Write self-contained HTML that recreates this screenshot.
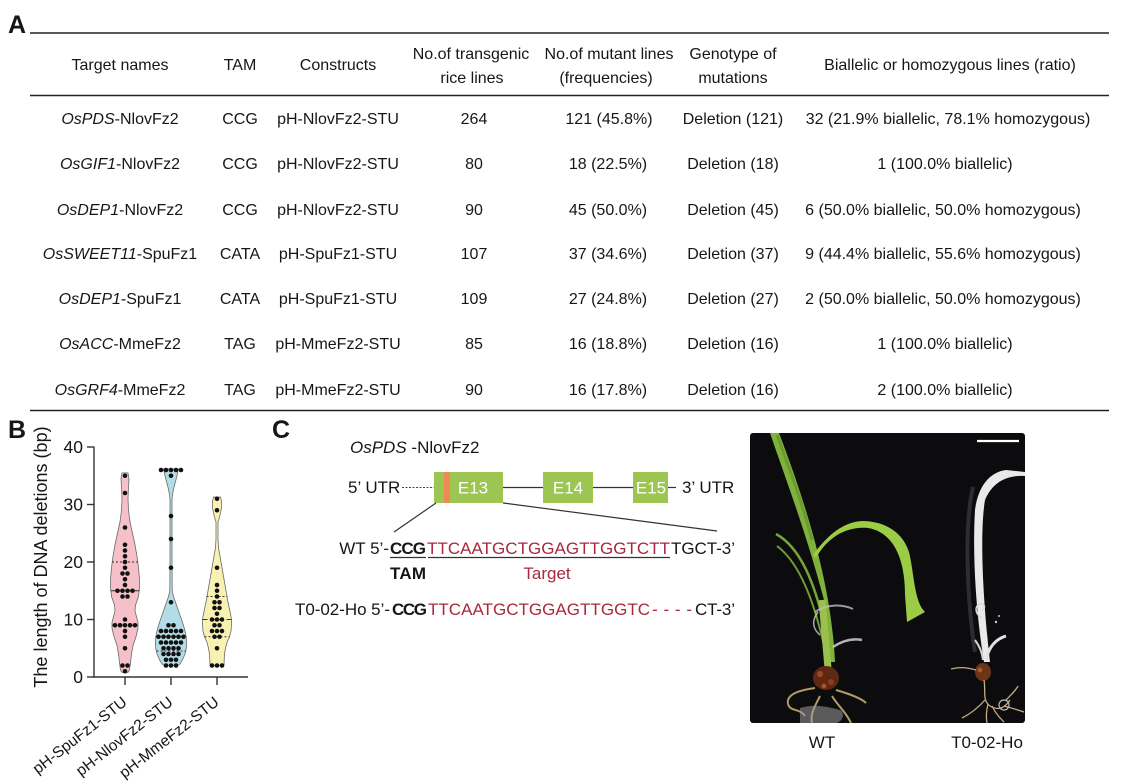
<!DOCTYPE html>
<html>
<head>
<meta charset="utf-8">
<style>
  html,body{margin:0;padding:0;background:#fff;}
  svg{display:block;}
  text{font-family:"Liberation Sans",Arial,sans-serif;fill:#161616;}
</style>
</head>
<body>
<svg width="1139" height="783" viewBox="0 0 1139 783" xmlns="http://www.w3.org/2000/svg">
  <rect width="1139" height="783" fill="#fff"/>

  <!-- ============ Panel A: table ============ -->
  <text x="8" y="33" font-size="25" font-weight="bold">A</text>
  <line x1="30" y1="33" x2="1109" y2="33" stroke="#222" stroke-width="1.6"/>
  <line x1="30" y1="95.5" x2="1109" y2="95.5" stroke="#222" stroke-width="1.6"/>
  <line x1="30" y1="410.5" x2="1109" y2="410.5" stroke="#222" stroke-width="1.6"/>

  <g font-size="16" text-anchor="middle">
    <text x="120" y="70">Target names</text>
    <text x="240" y="70">TAM</text>
    <text x="338" y="70">Constructs</text>
    <text x="471" y="59">No.of transgenic</text>
    <text x="472" y="83">rice lines</text>
    <text x="609" y="59">No.of mutant lines</text>
    <text x="606" y="83">(frequencies)</text>
    <text x="733" y="59">Genotype of</text>
    <text x="733" y="83">mutations</text>
    <text x="950" y="70">Biallelic or homozygous lines (ratio)</text>

    <!-- row 1 -->
    <text x="120" y="124"><tspan font-style="italic">OsPDS</tspan>-NlovFz2</text>
    <text x="240" y="124">CCG</text>
    <text x="338" y="124">pH-NlovFz2-STU</text>
    <text x="474" y="124">264</text>
    <text x="609" y="124">121 (45.8%)</text>
    <text x="733" y="124">Deletion (121)</text>
    <text x="948" y="124">32 (21.9% biallelic, 78.1% homozygous)</text>
    <!-- row 2 -->
    <text x="120" y="169"><tspan font-style="italic">OsGIF1</tspan>-NlovFz2</text>
    <text x="240" y="169">CCG</text>
    <text x="338" y="169">pH-NlovFz2-STU</text>
    <text x="474" y="169">80</text>
    <text x="608" y="169">18 (22.5%)</text>
    <text x="733" y="169">Deletion (18)</text>
    <text x="945" y="169">1 (100.0% biallelic)</text>
    <!-- row 3 -->
    <text x="120" y="215"><tspan font-style="italic">OsDEP1</tspan>-NlovFz2</text>
    <text x="240" y="215">CCG</text>
    <text x="338" y="215">pH-NlovFz2-STU</text>
    <text x="474" y="215">90</text>
    <text x="608" y="215">45 (50.0%)</text>
    <text x="733" y="215">Deletion (45)</text>
    <text x="943" y="215">6 (50.0% biallelic, 50.0% homozygous)</text>
    <!-- row 4 -->
    <text x="120" y="259"><tspan font-style="italic">OsSWEET11</tspan>-SpuFz1</text>
    <text x="240" y="259">CATA</text>
    <text x="338" y="259">pH-SpuFz1-STU</text>
    <text x="474" y="259">107</text>
    <text x="608" y="259">37 (34.6%)</text>
    <text x="733" y="259">Deletion (37)</text>
    <text x="943" y="259">9 (44.4% biallelic, 55.6% homozygous)</text>
    <!-- row 5 -->
    <text x="120" y="304"><tspan font-style="italic">OsDEP1</tspan>-SpuFz1</text>
    <text x="240" y="304">CATA</text>
    <text x="338" y="304">pH-SpuFz1-STU</text>
    <text x="474" y="304">109</text>
    <text x="608" y="304">27 (24.8%)</text>
    <text x="733" y="304">Deletion (27)</text>
    <text x="943" y="304">2 (50.0% biallelic, 50.0% homozygous)</text>
    <!-- row 6 -->
    <text x="120" y="349"><tspan font-style="italic">OsACC</tspan>-MmeFz2</text>
    <text x="240" y="349">TAG</text>
    <text x="338" y="349">pH-MmeFz2-STU</text>
    <text x="474" y="349">85</text>
    <text x="608" y="349">16 (18.8%)</text>
    <text x="733" y="349">Deletion (16)</text>
    <text x="945" y="349">1 (100.0% biallelic)</text>
    <!-- row 7 -->
    <text x="120" y="395"><tspan font-style="italic">OsGRF4</tspan>-MmeFz2</text>
    <text x="240" y="395">TAG</text>
    <text x="338" y="395">pH-MmeFz2-STU</text>
    <text x="474" y="395">90</text>
    <text x="608" y="395">16 (17.8%)</text>
    <text x="733" y="395">Deletion (16)</text>
    <text x="945" y="395">2 (100.0% biallelic)</text>
  </g>

  <!-- ============ Panel B: violin plot ============ -->
  <text x="8" y="438" font-size="25" font-weight="bold">B</text>
  <text transform="translate(47,557) rotate(-90)" font-size="18" text-anchor="middle">The length of DNA deletions (bp)</text>

  <!-- violins -->
  <polygon fill="#f5c0c7" stroke="#6a6a6a" stroke-width="0.8" points="128,472.9 129,478.6 128.5,487.25 128,498.75 128.5,510.25 130,521.75 132.5,533.25 135,544.75 137,556.25 138.5,567.75 139.5,579.25 139.5,587.9 138.5,596.5 135.5,605.1 135,610.9 136.5,616.6 138,622.4 138,628.1 136,636.75 133,645.4 131.5,654 130.5,662.6 129.5,670.1 128,672.4 122,672.4 120.5,670.1 119.5,662.6 118.5,654 117,645.4 114,636.75 112,628.1 112,622.4 113.5,616.6 115,610.9 114.5,605.1 111.5,596.5 110.5,587.9 110.5,579.25 111.5,567.75 113,556.25 115,544.75 117.5,533.25 120,521.75 121.5,510.25 122,498.75 121.5,487.25 121,478.6 122,472.9"/>
  <polygon fill="#b2dce6" stroke="#6a6a6a" stroke-width="0.8" points="178.5,468.85 177,475.75 175.5,481.5 174,487.25 172.8,493 172,498.75 172,516 172,562 172.2,590.75 173.5,596.5 175.5,602.25 177.5,608 179.5,613.75 181.5,619.5 183.5,625.25 185,631 186.2,636.75 186.6,642.5 186.3,648.25 185,654 182.5,659.75 180,663.8 178,665.5 164,665.5 162,663.8 159.5,659.75 157,654 155.7,648.25 155.4,642.5 155.8,636.75 157,631 158.5,625.25 160.5,619.5 162.5,613.75 164.5,608 166.5,602.25 168.5,596.5 169.8,590.75 170,562 170,516 170,498.75 169.2,493 168,487.25 166.5,481.5 165,475.75 163.5,468.85"/>
  <polygon fill="#f9f1b2" stroke="#6a6a6a" stroke-width="0.8" points="220.5,497 221.5,501.6 221.5,507.4 220.5,513.1 219,518.9 218,521.75 218,539 218.5,547.6 220,556.25 222,567.75 224,579.25 226,590.75 228,602.25 230.5,613.75 231.5,619.5 231.5,625.25 231,631 229.5,636.75 227,642.5 225.5,648.25 224.5,654 224.2,659.75 224,665.5 210,665.5 209.8,659.75 209.5,654 208.5,648.25 207,642.5 204.5,636.75 203,631 202.5,625.25 202.5,619.5 203.5,613.75 206,602.25 208,590.75 210,579.25 212,567.75 214,556.25 215.5,547.6 216,539 216,521.75 215,518.9 213.5,513.1 212.5,507.4 212.5,501.6 213.5,497"/>

  <!-- median / quartile lines -->
  <g stroke="#333" stroke-width="1">
    <line x1="112" y1="562" x2="138" y2="562" stroke-dasharray="2,2"/>
    <line x1="110.5" y1="590.75" x2="139.5" y2="590.75" stroke-dasharray="5,3"/>
    <line x1="112" y1="625.25" x2="138" y2="625.25" stroke-dasharray="5,3"/>
    <line x1="155.8" y1="636.75" x2="186.2" y2="636.75" stroke-dasharray="5,3"/>
    <line x1="156.5" y1="651" x2="185.5" y2="651" stroke-dasharray="2,2"/>
    <line x1="206.5" y1="596.5" x2="227.5" y2="596.5" stroke-dasharray="2,2"/>
    <line x1="202.5" y1="619.5" x2="231.5" y2="619.5" stroke-dasharray="5,3"/>
    <line x1="204.5" y1="636.75" x2="229.5" y2="636.75" stroke-dasharray="2,2"/>
  </g>

  <!-- dots -->
  <g fill="#111">
    <!-- pink -->
    <circle cx="125" cy="475.75" r="2.3"/>
    <circle cx="125" cy="493" r="2.3"/>
    <circle cx="125" cy="527.5" r="2.3"/>
    <circle cx="125" cy="544.75" r="2.3"/>
    <circle cx="125" cy="550.5" r="2.3"/>
    <circle cx="125" cy="556.25" r="2.3"/>
    <circle cx="125" cy="562" r="2.3"/>
    <circle cx="125" cy="567.75" r="2.3"/>
    <circle cx="122.5" cy="573.5" r="2.3"/><circle cx="127.5" cy="573.5" r="2.3"/>
    <circle cx="125" cy="579.25" r="2.3"/>
    <circle cx="125" cy="585" r="2.3"/>
    <circle cx="117.5" cy="590.75" r="2.3"/><circle cx="122.5" cy="590.75" r="2.3"/><circle cx="127.5" cy="590.75" r="2.3"/><circle cx="132.5" cy="590.75" r="2.3"/>
    <circle cx="122.5" cy="596.5" r="2.3"/><circle cx="127.5" cy="596.5" r="2.3"/>
    <circle cx="125" cy="619.5" r="2.3"/>
    <circle cx="115" cy="625.25" r="2.3"/><circle cx="120" cy="625.25" r="2.3"/><circle cx="125" cy="625.25" r="2.3"/><circle cx="130" cy="625.25" r="2.3"/><circle cx="135" cy="625.25" r="2.3"/>
    <circle cx="125" cy="631" r="2.3"/>
    <circle cx="125" cy="636.75" r="2.3"/>
    <circle cx="125" cy="648.25" r="2.3"/>
    <circle cx="122.5" cy="665.5" r="2.3"/><circle cx="127.5" cy="665.5" r="2.3"/>
    <circle cx="125" cy="671.25" r="2.3"/>
    <!-- blue -->
    <circle cx="161" cy="470" r="2.3"/><circle cx="166" cy="470" r="2.3"/><circle cx="171" cy="470" r="2.3"/><circle cx="176" cy="470" r="2.3"/><circle cx="181" cy="470" r="2.3"/>
    <circle cx="171" cy="475.75" r="2.3"/>
    <circle cx="171" cy="516" r="2.3"/>
    <circle cx="171" cy="539" r="2.3"/>
    <circle cx="171" cy="567.75" r="2.3"/>
    <circle cx="171" cy="602.25" r="2.3"/>
    <circle cx="168.5" cy="625.25" r="2.3"/><circle cx="173.5" cy="625.25" r="2.3"/>
    <circle cx="161" cy="631" r="2.3"/><circle cx="166" cy="631" r="2.3"/><circle cx="171" cy="631" r="2.3"/><circle cx="176" cy="631" r="2.3"/><circle cx="181" cy="631" r="2.3"/>
    <circle cx="158.5" cy="636.75" r="2.3"/><circle cx="163.5" cy="636.75" r="2.3"/><circle cx="168.5" cy="636.75" r="2.3"/><circle cx="173.5" cy="636.75" r="2.3"/><circle cx="178.5" cy="636.75" r="2.3"/><circle cx="183.5" cy="636.75" r="2.3"/>
    <circle cx="161" cy="642.5" r="2.3"/><circle cx="166" cy="642.5" r="2.3"/><circle cx="171" cy="642.5" r="2.3"/><circle cx="176" cy="642.5" r="2.3"/><circle cx="181" cy="642.5" r="2.3"/>
    <circle cx="163.5" cy="648.25" r="2.3"/><circle cx="168.5" cy="648.25" r="2.3"/><circle cx="173.5" cy="648.25" r="2.3"/><circle cx="178.5" cy="648.25" r="2.3"/>
    <circle cx="163.5" cy="654" r="2.3"/><circle cx="168.5" cy="654" r="2.3"/><circle cx="173.5" cy="654" r="2.3"/><circle cx="178.5" cy="654" r="2.3"/>
    <circle cx="166" cy="659.75" r="2.3"/><circle cx="171" cy="659.75" r="2.3"/><circle cx="176" cy="659.75" r="2.3"/>
    <circle cx="166" cy="665.5" r="2.3"/><circle cx="171" cy="665.5" r="2.3"/><circle cx="176" cy="665.5" r="2.3"/>
    <!-- yellow -->
    <circle cx="217" cy="498.75" r="2.3"/>
    <circle cx="217" cy="510.25" r="2.3"/>
    <circle cx="217" cy="567.75" r="2.3"/>
    <circle cx="217" cy="585" r="2.3"/>
    <circle cx="217" cy="590.75" r="2.3"/>
    <circle cx="217" cy="596.5" r="2.3"/>
    <circle cx="214.5" cy="602.25" r="2.3"/><circle cx="219.5" cy="602.25" r="2.3"/>
    <circle cx="214.5" cy="608" r="2.3"/><circle cx="219.5" cy="608" r="2.3"/>
    <circle cx="217" cy="613.75" r="2.3"/>
    <circle cx="212" cy="619.5" r="2.3"/><circle cx="217" cy="619.5" r="2.3"/><circle cx="222" cy="619.5" r="2.3"/>
    <circle cx="214.5" cy="625.25" r="2.3"/><circle cx="219.5" cy="625.25" r="2.3"/>
    <circle cx="212" cy="631" r="2.3"/><circle cx="217" cy="631" r="2.3"/><circle cx="222" cy="631" r="2.3"/>
    <circle cx="214.5" cy="636.75" r="2.3"/><circle cx="219.5" cy="636.75" r="2.3"/>
    <circle cx="217" cy="648.25" r="2.3"/>
    <circle cx="212" cy="665.5" r="2.3"/><circle cx="217" cy="665.5" r="2.3"/><circle cx="222" cy="665.5" r="2.3"/>
  </g>

  <!-- axes -->
  <g stroke="#333" stroke-width="1.4" fill="none">
    <line x1="94" y1="446.5" x2="94" y2="677.5"/>
    <line x1="93.3" y1="677" x2="248" y2="677"/>
    <line x1="87" y1="447" x2="94" y2="447"/>
    <line x1="87" y1="504.5" x2="94" y2="504.5"/>
    <line x1="87" y1="562" x2="94" y2="562"/>
    <line x1="87" y1="619.5" x2="94" y2="619.5"/>
    <line x1="87" y1="677" x2="94" y2="677"/>
    <line x1="125" y1="677" x2="125" y2="685"/>
    <line x1="171" y1="677" x2="171" y2="685"/>
    <line x1="217" y1="677" x2="217" y2="685"/>
  </g>
  <g font-size="17.5" text-anchor="end">
    <text x="83" y="453">40</text>
    <text x="83" y="510.5">30</text>
    <text x="83" y="568">20</text>
    <text x="83" y="625.5">10</text>
    <text x="83" y="683">0</text>
  </g>
  <g font-size="15.5" text-anchor="end">
    <text transform="translate(128,704) rotate(-38)">pH-SpuFz1-STU</text>
    <text transform="translate(174,704) rotate(-38)">pH-NlovFz2-STU</text>
    <text transform="translate(220,704) rotate(-38)">pH-MmeFz2-STU</text>
  </g>

  <!-- ============ Panel C ============ -->
  <text x="272" y="438" font-size="25" font-weight="bold">C</text>
  <text x="350" y="453" font-size="17"><tspan font-style="italic">OsPDS</tspan> -NlovFz2</text>

  <!-- gene diagram -->
  <text x="348" y="493" font-size="17">5’ UTR</text>
  <line x1="402" y1="487.5" x2="434" y2="487.5" stroke="#444" stroke-width="1" stroke-dasharray="2,1.5"/>
  <line x1="503" y1="487.5" x2="543" y2="487.5" stroke="#333" stroke-width="1.2"/>
  <line x1="593" y1="487.5" x2="633" y2="487.5" stroke="#333" stroke-width="1.2"/>
  <line x1="668" y1="487.5" x2="676" y2="487.5" stroke="#333" stroke-width="1.2"/>
  <rect x="434" y="472" width="69" height="31" fill="#9cc651"/>
  <rect x="444" y="472" width="6" height="31" fill="#f08a55"/>
  <rect x="543" y="472" width="50" height="31" fill="#9cc651"/>
  <rect x="633" y="472" width="35" height="31" fill="#9cc651"/>
  <g font-size="17" text-anchor="middle">
    <text x="473" y="493.5" style="fill:#fff">E13</text>
    <text x="568" y="493.5" style="fill:#fff">E14</text>
    <text x="651" y="493.5" style="fill:#fff">E15</text>
  </g>
  <text x="682" y="493" font-size="17">3’ UTR</text>
  <line x1="436" y1="503" x2="394" y2="532" stroke="#333" stroke-width="1.2"/>
  <line x1="503" y1="503" x2="717" y2="531" stroke="#333" stroke-width="1.2"/>

  <!-- sequences -->
  <g font-size="17">
    <text x="389" y="554" text-anchor="end">WT 5’-</text>
    <text x="390" y="554" font-weight="bold" textLength="36">CCG</text>
    <text x="427" y="554" style="fill:#a8283e" textLength="243">TTCAATGCTGGAGTTGGTCTT</text>
    <text x="671" y="554" textLength="64">TGCT-3’</text>
    <line x1="390" y1="557.5" x2="426" y2="557.5" stroke="#333" stroke-width="1.2"/>
    <line x1="428" y1="557.5" x2="670" y2="557.5" stroke="#333" stroke-width="1.2"/>
    <text x="390" y="579" font-weight="bold" textLength="36">TAM</text>
    <text x="547" y="579" text-anchor="middle" style="fill:#a8283e">Target</text>

    <text x="295" y="615" textLength="95">T0-02-Ho 5’-</text>
    <text x="392" y="615" font-weight="bold" textLength="35">CCG</text>
    <text x="428" y="615" style="fill:#a8283e" textLength="222">TTCAATGCTGGAGTTGGTC</text>
    <text x="652" y="615" style="fill:#a8283e" textLength="40">- - - -</text>
    <text x="695" y="615" textLength="40">CT-3’</text>
  </g>

  <!-- photo -->
  <rect x="750" y="433" width="275" height="290" rx="3" fill="#0c0c0f"/>
  <!-- WT plant -->
  <g>
    <path d="M770,433 C786,480 806,532 824,600 L828,662 L835,662 C832,600 816,530 779,433 Z" fill="#7fb23b"/>
    <path d="M777,435 C790,470 803,505 812,540" stroke="#6a9a30" stroke-width="3" fill="none"/>
    <path d="M776,534 C798,546 816,578 829,648" stroke="#76a636" stroke-width="2.5" fill="none"/>
    <path d="M777,546 C796,560 813,592 826,655" stroke="#6f9e33" stroke-width="2" fill="none"/>
    <path d="M816,558 C828,536 848,526 868,528 C892,532 905,556 905,595 L907,622 L925,612 C914,602 914,572 909,552 C902,530 882,521 862,521 C842,522 826,537 813,555 Z" fill="#9ccc45"/>
    <path d="M822,600 L828,668" stroke="#9cc050" stroke-width="7" fill="none"/>
    <path d="M815,612 C826,604 842,604 853,609" stroke="#bdbdbd" stroke-width="2" fill="none" opacity="0.8"/>
    <path d="M818,612 C812,620 812,628 820,635" stroke="#cfcfcf" stroke-width="1.5" fill="none" opacity="0.8"/>
    <path d="M833,647 C842,641 852,638 862,640" stroke="#d0d0d0" stroke-width="2.5" fill="none" opacity="0.85"/>
    <ellipse cx="826" cy="678" rx="13" ry="12" fill="#5e2812"/>
    <circle cx="820" cy="674" r="3" fill="#9a4a22"/>
    <circle cx="831" cy="682" r="3" fill="#8a3e1a"/>
    <circle cx="824" cy="686" r="2.5" fill="#a35428"/>
    <g stroke="#b49a66" stroke-width="2" fill="none">
      <path d="M815,688 C800,690 786,694 788,704 C790,712 800,708 805,716"/>
      <path d="M836,690 C850,694 862,699 866,703"/>
      <path d="M820,696 C815,706 810,714 812,723"/>
      <path d="M832,696 C838,706 846,712 851,723"/>
    </g>
    <path d="M800,708 C812,704 826,706 840,710 C846,714 842,722 836,723 L800,723 Z" fill="#9a9a9a" opacity="0.55"/>
  </g>
  <!-- mutant plant -->
  <g>
    <path d="M973,487 C964,525 967,600 975,652" stroke="#444" stroke-width="4" fill="none" opacity="0.6"/>
    <path d="M984,662 C977,620 972,560 975,510 C978,486 990,472 1006,470 L1025,472 L1025,476 C1008,475 993,481 985,500 C980,530 982,592 990,662 Z" fill="#e9e9e9"/>
    <path d="M982,618 C975,614 974,606 980,604 C985,603 986,609 982,610" stroke="#d8d8d8" stroke-width="1.6" fill="none"/>
    <path d="M986,660 C989,646 996,639 1006,636" stroke="#e2e2e2" stroke-width="3" fill="none"/>
    <path d="M983,660 C982,650 978,644 975,640" stroke="#d6d6d6" stroke-width="2" fill="none"/>
    <circle cx="996" cy="622" r="1.2" fill="#ccc"/>
    <circle cx="999" cy="616" r="1" fill="#ccc"/>
    <ellipse cx="983" cy="672" rx="8" ry="9" fill="#6b3516"/>
    <circle cx="980" cy="670" r="2.5" fill="#a45a2a"/>
    <g stroke="#c4ab83" stroke-width="1.3" fill="none">
      <path d="M976,670 C966,667 958,667 951,669"/>
      <path d="M984,680 C986,692 982,700 990,706 C1000,712 1006,706 1010,700"/>
      <path d="M985,700 C978,708 970,714 962,718"/>
      <path d="M992,706 C996,714 1000,718 1004,722"/>
      <path d="M1004,706 C1012,708 1018,710 1024,712"/>
      <path d="M988,704 C986,712 986,718 987,723"/>
      <path d="M1006,700 C1012,694 1016,690 1018,686"/>
    </g>
    <circle cx="1004" cy="705" r="5" stroke="#bbb" stroke-width="1.2" fill="none"/>
  </g>
  <line x1="977" y1="441" x2="1019" y2="441" stroke="#fff" stroke-width="2.2"/>

  <text x="822" y="748" font-size="17" text-anchor="middle">WT</text>
  <text x="987" y="748" font-size="17" text-anchor="middle">T0-02-Ho</text>
</svg>
</body>
</html>
